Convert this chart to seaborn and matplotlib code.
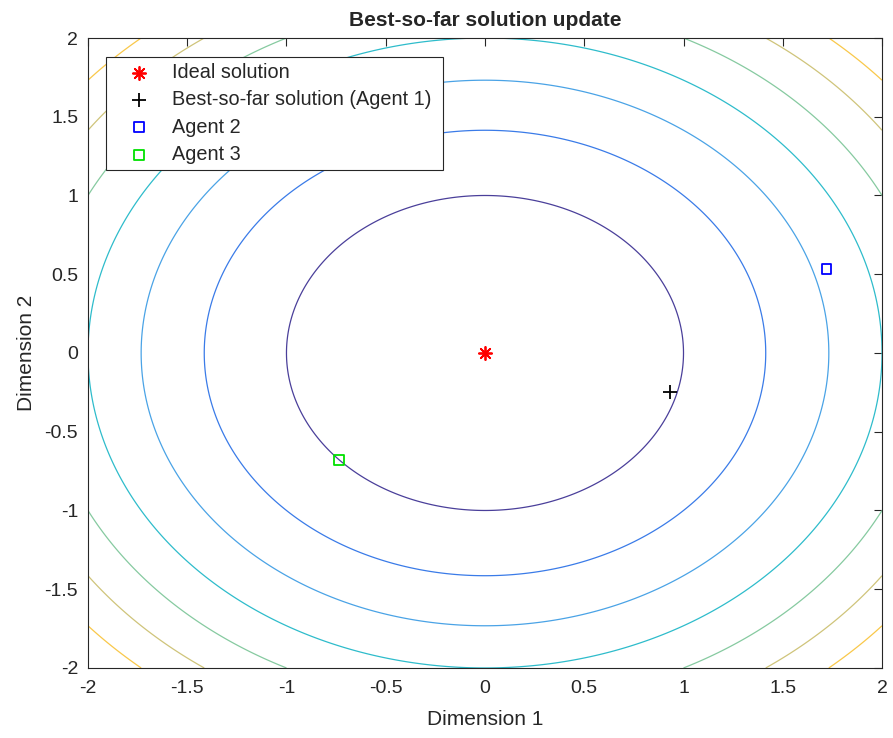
import numpy as np
import matplotlib
matplotlib.use("Agg")
import matplotlib.pyplot as plt
import seaborn as sns

# contour levels of f(x, y) = x^2 + y^2 and their colours (parula-like)
levels = [1, 2, 3, 4, 5, 6, 7]
level_colors = ["#4a3f9a", "#3a7be8", "#4aa3e6", "#2ebccb", "#86caa0", "#cfc47a", "#f9c84a"]

# marker points
names = ["Ideal solution", "Best-so-far solution (Agent 1)", "Agent 2", "Agent 3"]
xs = [0.0, 0.93, 1.72, -0.735]
ys = [0.0, -0.245, 0.535, -0.68]
point_colors = ["#ff0000", "#000000", "#0000ff", "#00e000"]
point_markers = [(8, 2, 0), "+", "s", "s"]
point_sizes = [90, 110, 50, 50]

ticks = [-2, -1.5, -1, -0.5, 0, 0.5, 1, 1.5, 2]
tick_labels = ["-2", "-1.5", "-1", "-0.5", "0", "0.5", "1", "1.5", "2"]

sns.set_style("white")
plt.rcParams["font.family"] = ["Liberation Sans", "DejaVu Sans"]

fig = plt.figure(figsize=(8.93, 7.38), dpi=100)
ax = fig.add_axes([0.0985, 0.0949, 0.8892, 0.8536])

g = np.linspace(-2, 2, 401)
X, Y = np.meshgrid(g, g)
Z = X ** 2 + Y ** 2
ax.contour(X, Y, Z, levels=levels, colors=level_colors, linewidths=0.9)

for name, x, y, c, m, s in zip(names, xs, ys, point_colors, point_markers, point_sizes):
    if m == "s":
        sns.scatterplot(x=[x], y=[y], ax=ax, marker="s", s=s, facecolor="none",
                        edgecolor=c, linewidth=1.3, label=name, zorder=5)
    else:
        sns.scatterplot(x=[x], y=[y], ax=ax, marker=m, s=s, color=c,
                        linewidth=1.3, label=name, zorder=5)

ax.set_xlim(-2, 2)
ax.set_ylim(-2, 2)
ax.set_xticks(ticks)
ax.set_xticklabels(tick_labels)
ax.set_yticks(ticks)
ax.set_yticklabels(tick_labels)
ax.tick_params(direction="in", top=True, right=True, length=6, width=0.8,
               labelsize=14, colors="#262626")
ax.tick_params(axis="x", pad=9)
ax.tick_params(axis="y", pad=7)
for sp in ax.spines.values():
    sp.set_color("#262626")
    sp.set_linewidth(0.8)

ax.set_title("Best-so-far solution update", fontsize=15, fontweight="bold", pad=9)
ax.set_xlabel("Dimension 1", fontsize=15, color="#262626", labelpad=9)
ax.set_ylabel("Dimension 2", fontsize=15, color="#262626", labelpad=6)

# trailing space gives the wider right margin of the MATLAB legend box
leg = ax.legend(loc="upper left", bbox_to_anchor=(0.0228, 0.97), fontsize=14.3,
                frameon=True, fancybox=False, edgecolor="#262626", framealpha=1,
                borderpad=0.3, labelspacing=0.42, handletextpad=0.3,
                borderaxespad=0, handlelength=2.7)
leg.get_frame().set_linewidth(0.8)
leg.texts[1].set_text("Best-so-far solution (Agent 1) ")

fig.savefig("out.png", dpi=100)
